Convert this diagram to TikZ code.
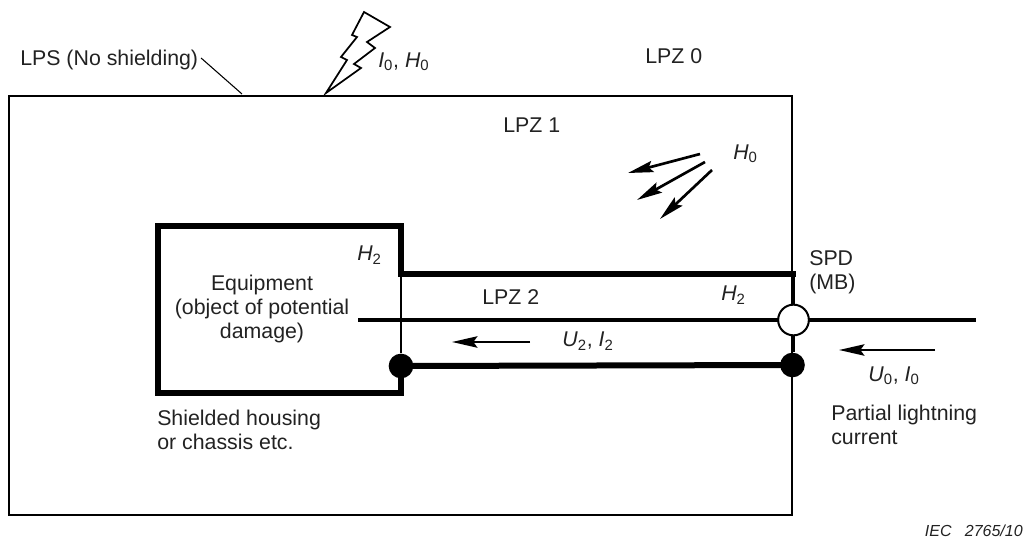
\documentclass[tikz,border=0pt]{standalone}
\usepackage{fontspec}
\setmainfont{Liberation Sans}
\usetikzlibrary{arrows.meta, positioning}
\definecolor{labelgrey}{HTML}{222222}
\tikzset{
    label text/.style={text=labelgrey, inner sep=0pt, anchor=west, align=left, font=\fontsize{16pt}{18pt}\selectfont},
    shield/.style={line width=4.5pt, line cap=rect, line join=miter},
    wire/.style={line width=2.4pt},
    thin wire/.style={line width=1.5pt},
    field arrow/.style={-{Stealth[length=19pt, width=8.5pt, inset=3pt]}, line width=2pt},
    junction/.style={circle, fill=black, inner sep=0pt, minimum size=18.5pt},
    spd/.style={circle, draw=black, fill=white, line width=1.5pt, inner sep=0pt, minimum size=23pt}
}
\begin{document}
\begin{tikzpicture}[x=0.75pt, y=-0.75pt]
        \useasboundingbox (0, 0) rectangle (1025, 538);

        \coordinate (zoneNW) at (9, 96);
        \coordinate (zoneSE) at (792, 515);
        \draw[thin wire] (zoneNW) rectangle (zoneSE);

        \node[label text] (lpslabel) at (20, 60) {LPS (No shielding)};
        \coordinate (lpshit) at (242, 94);
        \draw[line width=0.8pt] (lpslabel.east) ++(2pt, 1.5pt) -- (lpshit);

        \draw[line width=1.3pt, line join=miter, fill=white] (326, 93) -- (347, 60) -- (341, 57) -- (357, 37) -- (352, 35) -- (364, 12) -- (390, 27) -- (367, 42) -- (375, 48) -- (354, 64) -- (361, 68) -- cycle;

        \node[label text] (strikelabel) at (378, 62) {\textit{I}\textsubscript{0}, \textit{H}\textsubscript{0}};
        \node[label text] (lpz0) at (645, 56) {LPZ 0};
        \node[label text] (lpz1) at (503, 125) {LPZ 1};
        \node[label text] (fieldlabel) at (733, 154) {\textit{H}\textsubscript{0}};

        \draw[field arrow] (700, 154) -- (628, 173);
        \draw[field arrow] (705, 162) -- (637, 200);
        \draw[field arrow] (712, 170) -- (660, 219);

        \coordinate (houseSW) at (158, 393);
        \coordinate (houseNW) at (158, 226);
        \coordinate (houseNE) at (401, 226);
        \coordinate (cableNW) at (401, 274);
        \coordinate (cableNE) at (792.5, 274);
        \coordinate (houseSE) at (401, 393);

        \node[junction] (bondleft) at (401, 366) {};
        \node[junction] (bondright) at (792.5, 365) {};

        \draw[line width=1.2pt] (cableNW) -- (bondleft);
        \draw[shield] (houseSW) -- (houseNW) -- (houseNE) -- (cableNW) -- (cableNE);
        \draw[shield] (houseSW) -- (houseSE) -- (bondleft);
        \draw[shield] (bondleft) -- (bondright);
        \draw[line width=3pt] (cableNE) -- (bondright);

        \coordinate (linestart) at (358, 320);
        \coordinate (lineend) at (976, 320);
        \draw[wire] (linestart) -- (lineend);
        \node[spd] (spdcircle) at (793.5, 320) {};

        \node[label text] (spdlabel) at (809, 272.5) {SPD\\(MB)};
        \node[label text, align=center, anchor=center] (equipment) at (262, 309) {Equipment\\(object of potential\\damage)};
        \node[label text] (lpz2) at (482, 297) {LPZ 2};
        \node[label text] (shieldinner) at (357, 255) {\textit{H}\textsubscript{2}};
        \node[label text] (shieldcable) at (721, 295) {\textit{H}\textsubscript{2}};
        \node[label text] (innersurge) at (562, 341) {\textit{U}\textsubscript{2}, \textit{I}\textsubscript{2}};
        \node[label text] (outersurge) at (868, 376) {\textit{U}\textsubscript{0}, \textit{I}\textsubscript{0}};
        \node[label text] (partial) at (831, 425) {Partial lightning\\current};
        \node[label text] (housing) at (157, 430) {Shielded housing\\or chassis etc.};
        \node[label text, anchor=east, font=\fontsize{12pt}{14pt}\selectfont\itshape] (figref) at (1023, 531) {IEC\ \ \ 2765/10};

        \draw[field arrow] (530, 342) -- (452, 342);
        \draw[field arrow] (935, 350) -- (839, 350);
\end{tikzpicture}
\end{document}
